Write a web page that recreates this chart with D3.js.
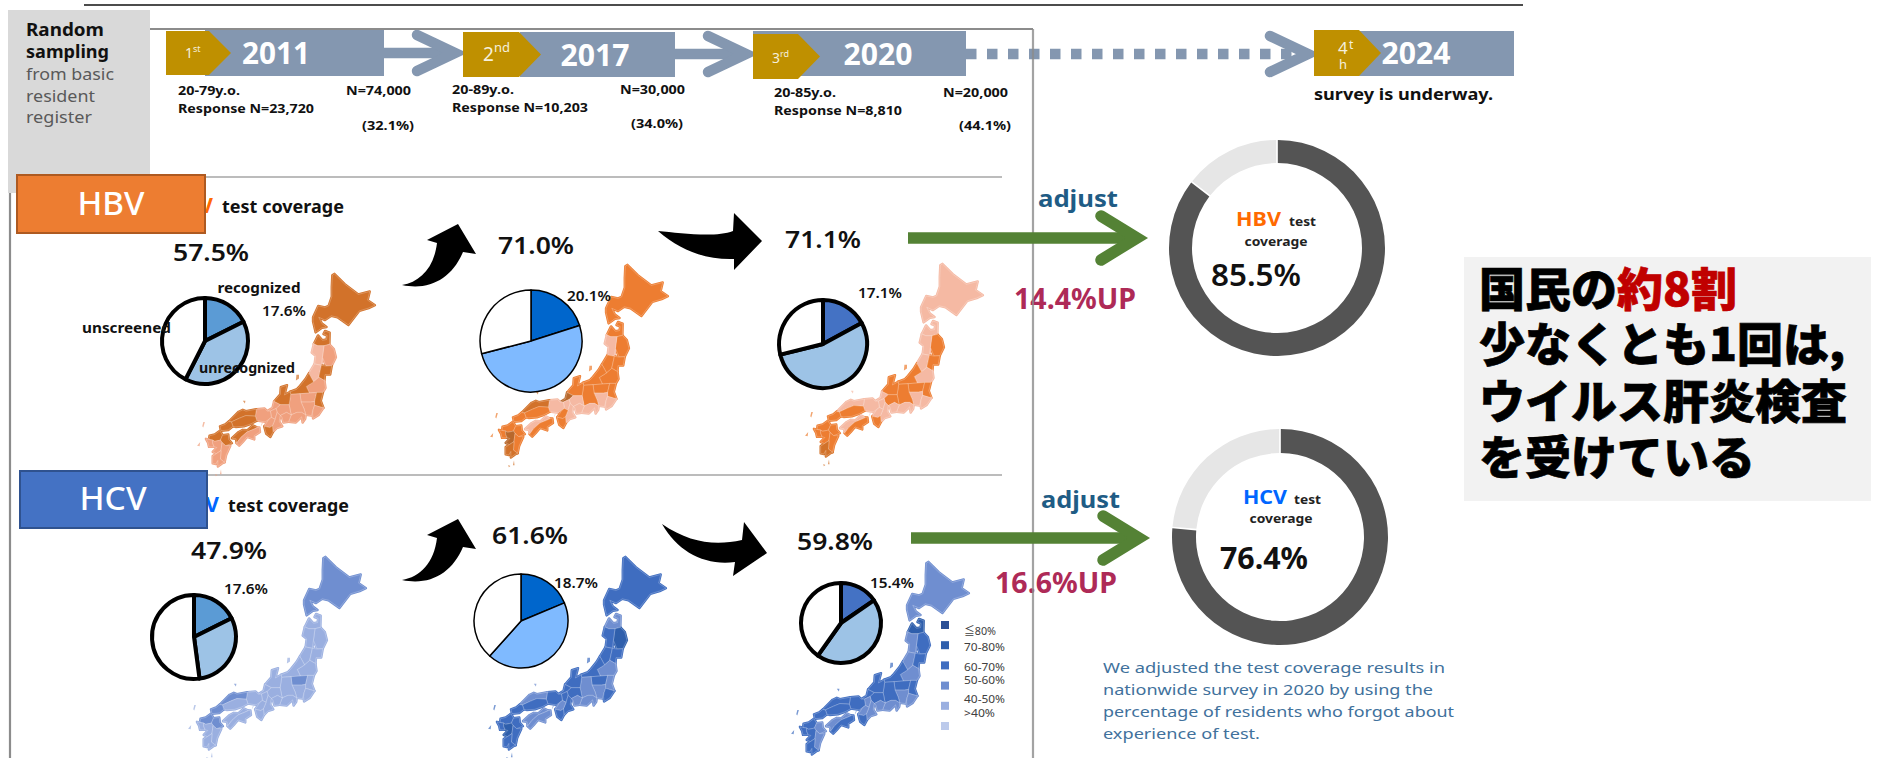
<!DOCTYPE html>
<html><head><meta charset="utf-8">
<style>html,body{margin:0;padding:0;background:#fff;overflow:hidden}svg{display:block}text{font-family:"Noto Sans","Noto Sans CJK JP",sans-serif}.cjk{font-family:"Noto Sans CJK JP",sans-serif}</style>
<script src="https://cdn.jsdelivr.net/npm/d3@7"></script></head><body>
<svg id="c" width="1881" height="758"></svg>
<script>
// ---- DATA ----
const surveyYears=["2011","2017","2020","2024"];
const surveyOrdinals=["1","2","3","4"];
const surveySuffix=["st","nd","rd","t"];
const surveyAges=["20-79y.o.","20-89y.o.","20-85y.o."];
const surveyResponses=["Response N=23,720","Response N=10,203","Response N=8,810"];
const surveyN=["N=74,000","N=30,000","N=20,000"];
const surveyRates=["(32.1%)","(34.0%)","(44.1%)"];
const hbvCoverage=[57.5,71.0,71.1];
const hcvCoverage=[47.9,61.6,59.8];
const hbvRecognized=[17.6,20.1,17.1];
const hcvRecognized=[17.6,18.7,15.4];
const hbvAdjusted=85.5, hcvAdjusted=76.4;
const hbvUp="14.4%UP", hcvUp="16.6%UP";
const legendLabels=["≦80%","70-80%","60-70%","50-60%","40-50%",">40%"];
const noteLines=["We adjusted the test coverage results in","nationwide survey in 2020 by using the","percentage of residents who forgot about","experience of test."];
const headlineLines=[[["国民の","#000"],["約8割","#c00000"]],[["少なくとも1回は,","#000"]],[["ウイルス肝炎検査","#000"]],[["を受けている","#000"]]];
const regionNames=["hokkaido","aomori","iwate","akita","yamagata","miyagi","fukushima","niigata","kitakanto","ibaraki","minamikanto","chiba","nagano","shizuoka","hokuriku","fukui","gifu","aichi","shiga","mie","kinkiNorth","osakaNara","wakayama","sanin","sanyo","yamaguchi","shikokuNorth","shikokuSouth","fukuoka","nagasaki","oita","kumamoto","miyazaki","kagoshima"];
const hbv2011=[75,75,55,45,45,75,55,75,55,75,50,50,50,50,75,50,50,50,50,50,50,50,75,75,75,75,75,50,75,50,75,50,50,55];
const hbv2017=[65,65,65,45,65,65,65,65,65,65,45,45,65,45,65,85,45,45,45,45,45,65,65,75,65,65,45,65,65,65,65,85,65,75];
const hbv2020=[45,45,65,45,45,65,45,65,65,65,45,45,65,45,65,45,65,45,45,45,45,45,65,45,65,65,45,65,65,65,65,65,65,75];
const hcv2011=[55,45,45,45,45,45,45,45,55,45,45,45,45,45,45,45,45,45,45,45,45,45,45,55,45,55,45,45,55,45,55,45,45,45];
const hcv2017=[65,55,75,65,65,65,55,65,65,55,55,65,55,55,65,65,65,55,65,65,65,55,65,55,65,65,55,55,65,65,65,75,65,65];
const hcv2020=[55,75,65,55,55,65,55,65,65,65,55,55,65,55,65,65,65,55,55,55,65,55,65,65,65,65,55,65,65,65,55,65,55,65];
// simplified outlines, lon/lat
const regionOutlines={
hokkaido:[[141.9,45.5],[142.9,44.8],[144.2,44.1],[145.3,44.3],[145.1,43.7],[145.8,43.35],[145.2,43.15],[144.3,42.95],[143.25,41.95],[142.2,42.5],[141.6,42.6],[141.0,42.3],[140.4,42.5],[140.7,42.05],[141.15,41.8],[140.7,41.75],[140.1,41.42],[139.85,42.2],[139.85,42.5],[140.35,43.3],[141.0,43.2],[141.35,43.3],[141.65,43.95],[141.65,44.6],[141.7,45.4]],
aomori:[[139.92,40.58],[140.33,41.2],[140.75,40.85],[141.15,40.9],[141.2,41.2],[140.85,41.3],[141.0,41.52],[141.45,41.4],[141.42,40.55],[140.9,40.45],[140.3,40.45]],
iwate:[[141.42,40.55],[141.85,40.2],[142.05,39.6],[141.65,38.97],[141.1,38.95],[140.75,39.6],[140.9,40.45]],
akita:[[139.92,40.58],[140.3,40.45],[140.9,40.45],[140.75,39.6],[140.65,39.0],[140.0,39.1],[140.1,39.7],[139.72,39.95]],
yamagata:[[140.0,39.1],[140.65,39.0],[140.4,38.1],[139.9,37.75],[139.45,38.4]],
miyagi:[[140.65,39.0],[141.1,38.95],[141.65,38.97],[141.5,38.3],[141.0,38.3],[140.95,37.85],[140.4,38.1]],
fukushima:[[139.9,37.75],[140.4,38.1],[140.95,37.85],[141.05,37.3],[140.8,36.95],[140.2,36.95],[139.5,36.9],[139.2,37.4]],
niigata:[[139.45,38.4],[139.9,37.75],[139.2,37.4],[139.5,36.9],[138.6,36.85],[137.7,36.8],[137.65,37.0],[138.3,37.2],[138.6,37.45],[139.1,37.95]],
kitakanto:[[139.5,36.9],[140.2,36.95],[140.0,36.25],[139.6,36.2],[138.7,36.2],[138.6,36.85]],
ibaraki:[[140.2,36.95],[140.8,36.95],[140.6,36.3],[140.85,35.75],[140.0,35.95],[140.0,36.25]],
minamikanto:[[138.7,36.2],[139.6,36.2],[140.0,36.25],[140.0,35.95],[139.85,35.6],[139.7,35.15],[139.15,35.2],[139.0,35.65]],
chiba:[[139.85,35.6],[140.0,35.95],[140.85,35.75],[140.4,35.2],[139.85,34.92],[139.8,35.3]],
nagano:[[138.6,36.85],[138.7,36.2],[139.0,35.65],[139.15,35.2],[138.75,35.4],[138.3,35.4],[137.75,35.2],[137.55,36.0],[137.7,36.8]],
shizuoka:[[139.15,35.2],[139.1,34.9],[138.85,34.6],[138.75,35.05],[138.2,34.6],[137.5,34.65],[137.75,35.2],[138.3,35.4],[138.75,35.4]],
hokuriku:[[137.7,36.8],[137.65,37.0],[137.1,36.75],[137.35,37.5],[136.75,37.35],[136.7,36.8],[136.1,36.25],[136.7,36.0],[137.55,36.0]],
fukui:[[136.1,36.25],[136.7,36.0],[136.3,35.7],[135.75,35.5],[135.45,35.5],[135.95,35.75]],
gifu:[[136.7,36.0],[137.55,36.0],[137.75,35.2],[137.3,35.4],[136.7,35.15],[136.4,35.4],[136.3,35.7]],
aichi:[[137.75,35.2],[137.5,34.65],[137.0,34.6],[136.85,35.05],[136.7,35.15],[137.3,35.4]],
shiga:[[136.3,35.7],[136.4,35.4],[136.2,34.85],[135.85,35.0],[135.75,35.5]],
mie:[[136.4,35.4],[136.7,35.15],[136.6,34.7],[136.9,34.3],[136.35,34.15],[136.0,33.85],[135.95,34.35],[136.2,34.85]],
kinkiNorth:[[135.45,35.5],[135.75,35.5],[135.85,35.0],[135.6,34.85],[135.25,34.65],[134.45,34.75],[134.3,35.1],[134.4,35.65],[135.2,35.7]],
osakaNara:[[135.85,35.0],[136.2,34.85],[135.95,34.35],[135.7,34.2],[135.15,34.3],[135.4,34.6],[135.6,34.85]],
wakayama:[[135.15,34.3],[135.7,34.2],[135.95,34.35],[136.0,33.85],[135.75,33.45],[135.35,33.7]],
sanin:[[134.4,35.65],[134.3,35.1],[133.4,35.15],[132.8,34.95],[132.0,34.65],[131.75,34.68],[132.7,35.45],[133.1,35.6],[133.4,35.5]],
sanyo:[[134.3,35.1],[134.45,34.75],[133.9,34.5],[133.2,34.3],[132.4,34.25],[132.15,34.3],[132.0,34.65],[132.8,34.95],[133.4,35.15]],
yamaguchi:[[132.0,34.65],[132.15,34.3],[131.7,34.0],[131.0,33.95],[130.9,34.3],[131.4,34.45],[131.75,34.68]],
shikokuNorth:[[134.5,34.2],[134.05,34.38],[133.55,34.0],[133.1,34.02],[132.7,33.85],[132.05,33.35],[132.45,33.3],[132.5,32.95],[132.9,33.4],[133.5,33.85],[134.1,34.05]],
shikokuSouth:[[132.5,32.95],[132.75,32.75],[133.1,33.05],[133.5,33.45],[134.2,33.25],[134.2,33.55],[134.75,33.85],[134.7,34.2],[134.5,34.2],[134.1,34.05],[133.5,33.85],[132.9,33.4]],
fukuoka:[[130.9,33.95],[131.15,33.6],[130.95,33.2],[130.4,33.1],[130.2,33.2],[129.85,33.25],[129.9,33.55],[130.4,33.65]],
nagasaki:[[129.85,33.25],[130.2,33.2],[130.2,32.95],[130.35,32.65],[129.85,32.65],[129.75,33.0],[129.55,33.3]],
oita:[[131.15,33.6],[131.7,33.65],[131.75,33.25],[132.05,32.95],[131.45,32.75],[131.1,33.0],[130.95,33.2]],
kumamoto:[[130.2,33.2],[130.4,33.1],[130.95,33.2],[131.1,33.0],[131.0,32.35],[130.55,32.1],[130.2,32.25],[130.6,32.6],[130.35,32.65],[130.2,32.95]],
miyazaki:[[131.1,33.0],[131.45,32.75],[131.9,32.75],[131.5,32.0],[131.35,31.4],[130.95,31.65],[131.0,32.35]],
kagoshima:[[130.55,32.1],[131.0,32.35],[130.95,31.65],[131.35,31.4],[131.1,31.3],[130.7,31.05],[130.7,31.55],[130.5,31.25],[130.2,31.3],[130.2,31.9]]
};
const islandOutlines=[
["niigata",[[138.25,38.3],[138.5,38.3],[138.5,38.0],[138.2,37.85]]],
["sanin",[[133.1,36.3],[133.35,36.3],[133.3,36.1]]],
["nagasaki",[[129.3,34.65],[129.45,34.65],[129.3,34.2],[129.2,34.3]]],
["nagasaki",[[128.7,32.75],[129.0,33.05],[128.95,32.7]]],
["kagoshima",[[131.0,30.8],[131.05,30.4],[130.9,30.4]]],
["kagoshima",[[130.45,30.42],[130.65,30.35],[130.5,30.25]]],
["kinkiNorth",[[134.95,34.6],[135.0,34.55],[134.8,34.25]]]
];

// ---- LAYOUT ----
const svg=d3.select("#c");
const F={
  map:[{x:286,y:372},{x:579,y:363},{x:894,y:362},{x:277,y:655},{x:577,y:655},{x:880,y:660}],
  pie:[{x:205,y:341,r:43,w:4},{x:531,y:341,r:51,w:1.5},{x:823,y:344,r:44,w:4},{x:194,y:637,r:42,w:4},{x:521,y:621,r:47,w:1.5},{x:841,y:623,r:40,w:4}],
  pct:[{x:211,y:261},{x:536,y:254},{x:823,y:248},{x:229,y:559},{x:530,y:544},{x:835,y:550}],
  rec:[{x:284,y:316},{x:589,y:301},{x:880,y:298},{x:246,y:594},{x:576,y:588},{x:892,y:588}]
};
const pieStyle=[["#5b9bd5","#9dc3e6","#fff"],["#0066cc","#7fbaff","#fff"],["#4472c4","#9dc3e6","#fff"]];
function T(g,x,y,s,size,weight,color,anchor,len){
  const t=g.append("text").attr("x",x).attr("y",y).text(s).attr("font-size",size).attr("font-weight",weight).attr("fill",color).attr("text-anchor",anchor||"start");
  if(len) t.attr("textLength",len).attr("lengthAdjust","spacingAndGlyphs");
  return t;
}
const root=svg.append("g");
// background shapes
root.append("line").attr("x1",84).attr("x2",1523).attr("y1",5).attr("y2",5).attr("stroke","#111").attr("stroke-width",1.4);
const frame=d3.path();frame.moveTo(10,758);frame.lineTo(10,29);frame.lineTo(1033,29);
root.append("path").attr("d",frame.toString()).attr("fill","none").attr("stroke","#8c8c8c").attr("stroke-width",2.2);
root.append("rect").attr("x",8).attr("y",10).attr("width",142).attr("height",183).attr("fill","#d9d9d9");
[["Random",36,700,"#111",78],["sampling",58,700,"#111",83],["from basic",80,400,"#595959",88],["resident",102,400,"#595959",69],["register",123,400,"#595959",66]].forEach(d=>T(root,26,d[1],d[0],17,d[2],d[3],"start",d[4]));
root.append("line").attr("x1",20).attr("x2",1002).attr("y1",177).attr("y2",177).attr("stroke","#a6a6a6").attr("stroke-width",1.6);
root.append("line").attr("x1",20).attr("x2",1002).attr("y1",475).attr("y2",475).attr("stroke","#a6a6a6").attr("stroke-width",1.6);

// timeline
const barGeo=[{x0:166,bx:205,bx1:384,tip:231,y:30,h:46,gy:31,gh:44,ty:64,yx:276,ox:185,os:14,ss:9,oy:58},{x0:463,bx:520,bx1:675,tip:541,y:32,h:45,gy:32,gh:45,ty:66,yx:595,ox:483,os:19,ss:13,oy:61},{x0:753,bx:753,bx1:966,tip:820,y:31,h:45,gy:34,gh:45,ty:65,yx:878,ox:772,os:14,ss:9,oy:63},{x0:1314,bx:1340,bx1:1514,tip:1381,y:31,h:45,gy:30,gh:46,ty:64,yx:1416,ox:1338}];
const tl=root.append("g");
const blue="#8497b0",gold="#bf9000";
function chev(g,x1,x2,y,dash,color,hw,hx,sw){
  g.append("line").attr("x1",x1).attr("x2",x2-6).attr("y1",y).attr("y2",y).attr("stroke",color).attr("stroke-width",sw).attr("stroke-dasharray",dash||null);
  g.append("path").attr("d",`M${x2-hx},${y-hw}L${x2-6},${y}L${x2-hx},${y+hw}`).attr("fill","none").attr("stroke",color).attr("stroke-width",sw).attr("stroke-linecap","round").attr("stroke-linejoin","miter");
}
chev(tl,384,461,53,null,blue,18,44,10.5);
chev(tl,675,752,54,null,blue,18,44,10.5);
chev(tl,966,1314,54,"10.5,10.5",blue,18,44,10.5);
surveyYears.forEach((yr,i)=>{
  const b=barGeo[i];
  tl.append("rect").attr("x",b.bx).attr("y",b.y).attr("width",b.bx1-b.bx).attr("height",b.h).attr("fill",blue);
  tl.append("path").attr("d",d3.line()([[b.x0,b.gy],[b.tip-22,b.gy],[b.tip,b.gy+b.gh/2],[b.tip-22,b.gy+b.gh],[b.x0,b.gy+b.gh]])+"Z").attr("fill",gold);
  T(tl,b.yx,b.ty,yr,30,700,"#fff","middle",i==0?68:69);
  if(i<3){
    const t=T(tl,b.ox,b.oy,surveyOrdinals[i],b.os,400,"#f5efdc");
    t.append("tspan").attr("dy",-b.os*.45).attr("font-size",b.ss).text(surveySuffix[i]);
  }else{
    T(tl,b.ox,b.gy+24,surveyOrdinals[i],17,400,"#f5efdc");
    T(tl,b.ox+11,b.gy+19,surveySuffix[i],12,400,"#f5efdc");
    T(tl,b.ox+1,b.gy+39,"h",13,400,"#f5efdc");
  }
});
const infoX=[178,452,774],nX=[346,620,943],rateX=[362,631,959],infoY=[95,94,97],rateY=[130,128,130];
surveyAges.forEach((a,i)=>{
  T(tl,infoX[i],infoY[i],a,13,700,"#111","start",62);
  T(tl,infoX[i],infoY[i]+18,surveyResponses[i],13,700,"#111","start",i<2?136:128);
  T(tl,nX[i],infoY[i],surveyN[i],13,700,"#111","start",65);
  T(tl,rateX[i],rateY[i],surveyRates[i],13,700,"#111","start",52);
});
T(tl,1314,100,"survey is underway.",16,700,"#111","start",179);

// labels behind the coloured boxes
T(root,213,213,"HBV",21,700,"#ff6a00","end");
T(root,222,213,"test coverage",17,700,"#111","start",122);
T(root,219,512,"HCV",21,700,"#0066ff","end");
T(root,228,512,"test coverage",17,700,"#111","start",121);
root.append("rect").attr("x",17).attr("y",175).attr("width",188).attr("height",58).attr("fill","#ed7d31").attr("stroke","#ae5a21").attr("stroke-width",2);
T(root,111,215,"HBV",32,500,"#fff","middle",67);
root.append("rect").attr("x",20).attr("y",471).attr("width",187).attr("height",57).attr("fill","#4472c4").attr("stroke","#2f528f").attr("stroke-width",2);
T(root,113,510,"HCV",32,500,"#fff","middle",67);

// maps
const orange=d3.scaleThreshold().domain([50,60,70,80]).range(["#f5b9a3","#f0a07e","#ed7d31","#d2722a","#b8682c"]);
const blues=d3.scaleThreshold().domain([40,50,60,70,80]).range(["#bccaeb","#9aafe0","#6f8ed0","#3f6dc0","#2f5fac","#2b4f95"]);
const mapSeries=[[hbv2011,orange],[hbv2017,orange],[hbv2020,orange],[hcv2011,blues],[hcv2017,blues],[hcv2020,blues]];
const line=d3.line();
mapSeries.forEach(([vals,col],m)=>{
  const pr=d3.geoMercator().center([137.25,38.5]).scale(596).translate([F.map[m].x,F.map[m].y]);
  const g=root.append("g");
  const valOf=n=>vals[regionNames.indexOf(n)];
  islandOutlines.forEach(([n,c])=>g.append("path").attr("d",line(c.map(pr))+"Z").attr("fill",col(valOf(n))).attr("opacity",.7));
  // fatten the land a little with a same-colour outline, then overlay fine borders
  regionNames.forEach((n,i)=>g.append("path").attr("d",line(regionOutlines[n].map(pr))+"Z").attr("fill",col(vals[i])).attr("stroke",col(vals[i])).attr("stroke-width",2.4).attr("stroke-linejoin","round"));
  regionNames.forEach((n,i)=>g.append("path").attr("d",line(regionOutlines[n].map(pr))+"Z").attr("fill",col(vals[i])).attr("stroke","#fff").attr("stroke-opacity",.4).attr("stroke-width",.6));
});

// curved arrows
const curveUp=dy=>`M402,${285+dy}C420,${282+dy} 434,${268+dy} 437,${243+dy}L427,${240+dy}L458,${224+dy}L476,${254+dy}L463,${252+dy}C452,${278+dy} 430,${291+dy} 402,${285+dy}Z`;
root.append("path").attr("d",curveUp(0)).attr("fill","#000");
root.append("path").attr("d",curveUp(295)).attr("fill","#000");
root.append("path").attr("d","M658,231C680,233 715,238 733,231L734,213L762,241L734,270L734,259C705,260 680,250 658,231Z").attr("fill","#000");
root.append("path").attr("d","M662,524C690,543 715,546 742,540L744,522L767,553L733,576L735,562C705,566 678,552 662,524Z").attr("fill","#000");

// pies
const pie=d3.pie().sort(null);
hbvCoverage.concat(hcvCoverage).forEach((cov,i)=>{
  const rec=hbvRecognized.concat(hcvRecognized)[i];
  const p=F.pie[i],st=pieStyle[i%3];
  const arc=d3.arc().innerRadius(0).outerRadius(p.r);
  const g=root.append("g").attr("transform",`translate(${p.x},${p.y})`);
  g.selectAll("path").data(pie([rec,cov-rec,100-cov])).join("path").attr("d",arc).attr("fill",(d,j)=>st[j]).attr("stroke","#000").attr("stroke-width",p.w).attr("stroke-linejoin","round");
  T(root,F.pct[i].x,F.pct[i].y,cov.toFixed(1)+"%",24,600,"#111","middle",76);
  T(root,F.rec[i].x,F.rec[i].y,rec.toFixed(1)+"%",14,600,"#111","middle",44);
});
T(root,259,293,"recognized",14,700,"#111","middle",83);
T(root,82,333,"unscreened",14,700,"#111","start",89);
T(root,199,373,"unrecognized",14,700,"#111","start",96);

// UP labels then frame line passes through them
T(root,1014,309,hbvUp,28,700,"#ae2a57","start",122);
T(root,995,593,hcvUp,28,700,"#ae2a57","start",122);
root.append("line").attr("x1",1033).attr("x2",1033).attr("y1",29).attr("y2",758).attr("stroke","#8c8c8c").attr("stroke-opacity",.8).attr("stroke-width",2.2);

// green arrows
chev(root,908,1143,238,null,"#548235",22,42,11.5);
chev(root,911,1145,538,null,"#548235",22,42,11.5);
T(root,1038,207,"adjust",24,700,"#1f5c85","start",80);
T(root,1041,508,"adjust",24,700,"#1f5c85","start",79);

// donuts
function donut(cx,cy,ro,ri,val){
  const a=d3.arc().innerRadius(ri).outerRadius(ro).padAngle(.012);
  root.append("g").attr("transform",`translate(${cx},${cy})`).selectAll("path").data(pie([val,100-val])).join("path").attr("d",a).attr("fill",(d,i)=>i?"#e6e6e6":"#545454");
}
donut(1277,248,108,85,hbvAdjusted);
donut(1280,537,108,84,hcvAdjusted);
T(root,1236,226,"HBV",20,700,"#ff6a00","start",45);T(root,1289,226,"test",13,700,"#222","start",27);T(root,1276,246,"coverage",13,700,"#222","middle",63);
T(root,1211,286,hbvAdjusted.toFixed(1)+"%",30,600,"#111","start",90);
T(root,1243,504,"HCV",20,700,"#0066ff","start",44);T(root,1294,504,"test",13,700,"#222","start",27);T(root,1281,523,"coverage",13,700,"#222","middle",63);
T(root,1220,569,hcvAdjusted.toFixed(1)+"%",30,700,"#111","start",88);

// legend
const legendColors=blues.range().slice().reverse();
legendLabels.forEach((l,i)=>{
  root.append("rect").attr("x",941).attr("y",621+i*20.2).attr("width",8).attr("height",8).attr("fill",legendColors[i]);
  T(root,964,[635,651,671,684,703,717][i],l,11,400,"#404040","start",i==0?32:i==5?31:41);
});
noteLines.forEach((l,i)=>T(root,1103,673+i*22,l,15,400,"#41719c","start",[342,330,351,157][i]));

// headline
root.append("rect").attr("x",1464).attr("y",257).attr("width",407).attr("height",244).attr("fill","#f2f2f2");
headlineLines.forEach((ln,i)=>{
  const t=root.append("text").attr("class","cjk").attr("x",1479).attr("y",[306,361,418,474][i]).attr("font-size",46).attr("font-weight",900);
  ln.forEach(([s,c])=>t.append("tspan").text(s).attr("fill",c).attr("stroke",c).attr("stroke-width",.7));
});
</script></body></html>
